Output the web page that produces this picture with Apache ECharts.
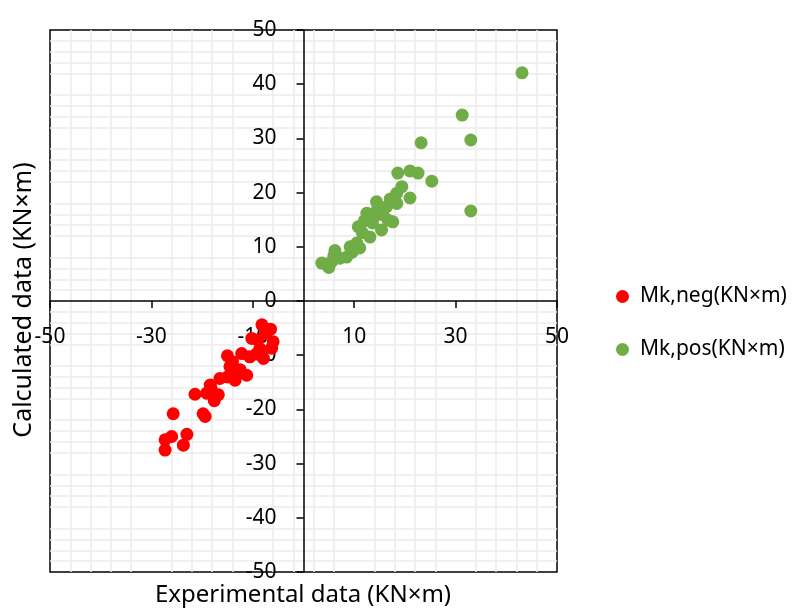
<!DOCTYPE html>
<html>
<head>
<meta charset="utf-8">
<script src="https://cdn.jsdelivr.net/npm/echarts@6/dist/echarts.min.js"></script>
<style>
  html, body { margin: 0; padding: 0; background: #fff; }
  #chart { width: 792px; height: 608px; }
</style>
</head>
<body>
<div id="chart"></div>
<script>
// data, [experimental, calculated]
const negName = 'Mk,neg(KN×m)';
const posName = 'Mk,pos(KN×m)';

const negData = [
  [-8.2, -4.4], [-6.5, -5.2], [-7.5, -6.0], [-10.2, -6.9], [-9.0, -7.2],
  [-6.0, -7.5], [-6.3, -8.7], [-8.6, -8.8], [-7.9, -10.6], [-10.6, -10.3],
  [-9.3, -9.8], [-12.2, -9.7], [-15.0, -10.1], [-14.5, -12.1], [-12.5, -12.7],
  [-11.2, -13.7], [-13.5, -14.6], [-15.0, -14.0], [-16.5, -14.3], [-18.4, -15.5],
  [-19.1, -17.0], [-16.8, -17.3], [-17.6, -18.4], [-18.2, -16.2], [-21.4, -17.2],
  [-19.4, -21.3], [-19.8, -20.8], [-25.7, -20.8], [-23.0, -24.6], [-23.7, -26.6],
  [-26.0, -25.0], [-27.3, -25.6], [-27.3, -27.5], [-14.0, -11.2], [-13.0, -13.5]
];

const posData = [
  [3.6, 7.0], [4.4, 6.8], [5.0, 6.2], [5.6, 7.3], [6.0, 8.4], [6.2, 9.3],
  [7.2, 7.9], [8.5, 8.1], [9.2, 10.0], [9.6, 9.0], [10.5, 10.7], [11.1, 9.8],
  [10.8, 13.7], [11.6, 12.6], [12.0, 14.8], [12.5, 16.2], [13.1, 11.8], [13.6, 14.4],
  [14.0, 15.6], [14.4, 18.3], [14.6, 17.0], [15.4, 13.1], [15.7, 15.9], [16.4, 17.4],
  [16.7, 14.9], [17.1, 18.8], [17.6, 14.6], [18.4, 18.0], [18.4, 19.9], [19.4, 21.1],
  [21.0, 19.0], [18.6, 23.6], [21.0, 24.0], [22.6, 23.6], [25.3, 22.1], [23.2, 29.2],
  [33.0, 29.7], [31.3, 34.3], [33.0, 16.6], [43.1, 42.1]
];

const xTitle = 'Experimental data (KN×m)';
const yTitle = 'Calculated data (KN×m)';

const font = 'Noto Sans';

// grid box in pixels; the axes are shifted in to sit on zero
const gLeft = 50, gRight = 235, gTop = 30, gBottom = 36;
const plotW = 792 - gLeft - gRight;
const plotH = 608 - gTop - gBottom;

const chart = echarts.init(document.getElementById('chart'));

const gridLine = { show: true, lineStyle: { color: '#ececec', width: 1.5 } };

const option = {
  animation: false,
  textStyle: { fontFamily: font },
  grid: {
    left: gLeft, right: gRight, top: gTop, bottom: gBottom,
    show: true, borderColor: '#000', borderWidth: 1.5
  },
  legend: {
    orient: 'vertical',
    left: 611,
    top: 281,
    itemGap: 32,
    itemWidth: 13,
    itemHeight: 13,
    icon: 'circle',
    textStyle: { fontSize: 21, color: '#000', fontFamily: font, padding: [0, 0, 0, 6] },
    data: [negName, posName]
  },
  xAxis: {
    type: 'value',
    position: 'bottom',
    offset: -plotH / 2,
    min: -50, max: 50, interval: 20,
    axisLine: { onZero: false, lineStyle: { color: '#000', width: 1.5 } },
    axisTick: { show: true, length: 7, lineStyle: { color: '#000', width: 1.5 } },
    axisLabel: { margin: 26, fontSize: 21, color: '#000', fontFamily: font },
    splitLine: { show: false },
    minorTick: { show: false, splitNumber: 5 },
    minorSplitLine: gridLine
  },
  yAxis: {
    type: 'value',
    position: 'left',
    offset: -plotW / 2,
    min: -50, max: 50, interval: 10,
    axisLine: { onZero: false, lineStyle: { color: '#000', width: 1.5 } },
    axisTick: { show: true, length: 7, lineStyle: { color: '#000', width: 1.5 } },
    axisLabel: { margin: 27, fontSize: 21, color: '#000', fontFamily: font, padding: [0, 0, 8, 0] },
    splitLine: { show: false },
    minorTick: { show: false, splitNumber: 5 },
    minorSplitLine: gridLine
  },
  graphic: [
    {
      type: 'text',
      x: 303, y: 595,
      style: {
        text: xTitle, align: 'center', verticalAlign: 'middle',
        font: '24px "' + font + '"', fill: '#000'
      }
    },
    {
      type: 'text',
      x: 24, y: 300, rotation: Math.PI / 2,
      style: {
        text: yTitle, align: 'center', verticalAlign: 'middle',
        font: '25px "' + font + '"', fill: '#000'
      }
    }
  ],
  series: [
    {
      name: negName,
      type: 'scatter',
      symbolSize: 13,
      itemStyle: { color: '#ff0000', opacity: 1 },
      data: negData
    },
    {
      name: posName,
      type: 'scatter',
      symbolSize: 13,
      itemStyle: { color: '#70ad47', opacity: 1 },
      data: posData
    }
  ]
};

chart.setOption(option);
</script>
</body>
</html>
